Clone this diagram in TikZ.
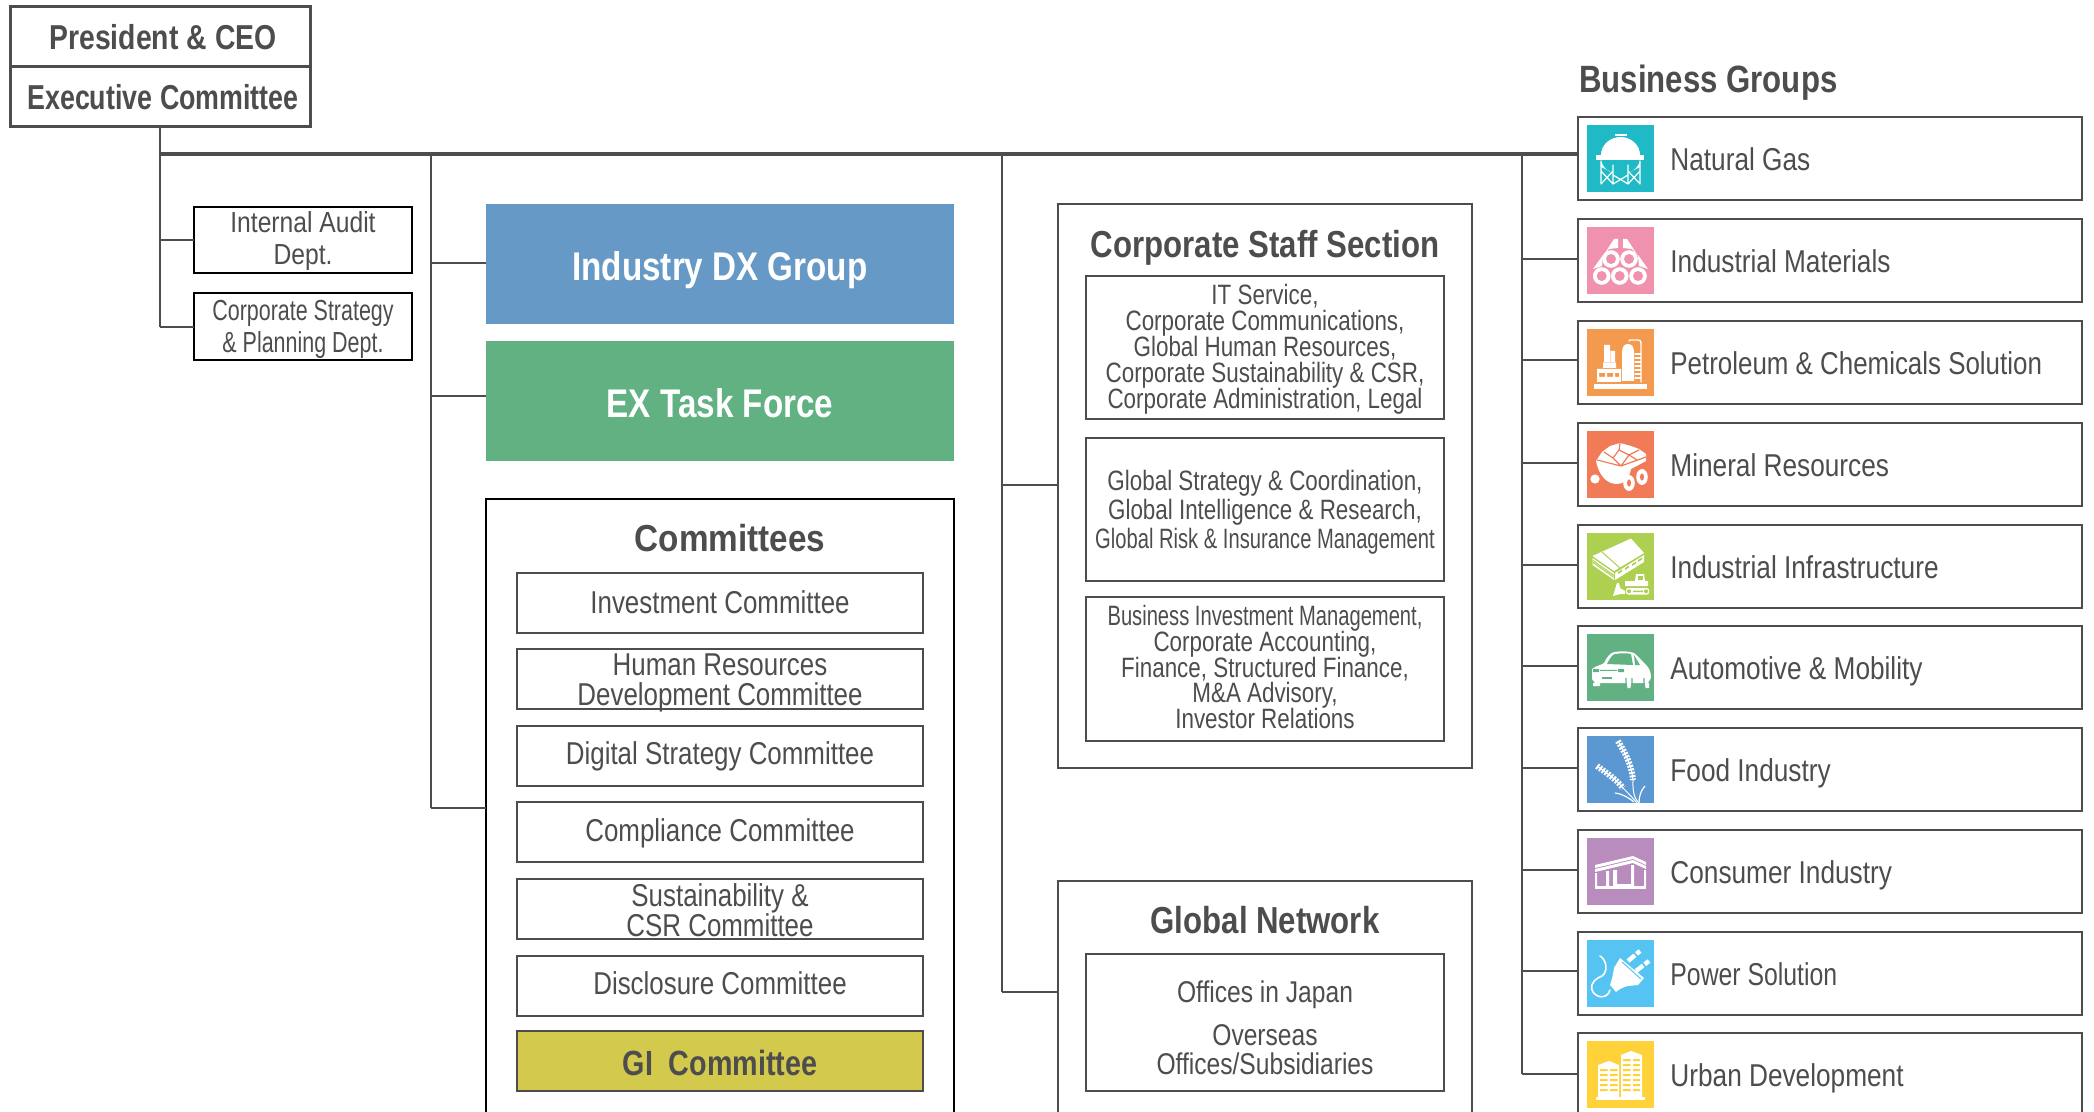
\documentclass[tikz,border=0pt]{standalone}
\usepackage{fontspec}
\setmainfont{Liberation Sans}
\newfontfamily\condfont[FakeStretch=0.82]{Liberation Sans}
\newfontfamily\tightfont[FakeStretch=0.74]{Liberation Sans}
\newfontfamily\headfont[FakeStretch=0.83]{Liberation Sans}
\newfontfamily\wideheadfont[FakeStretch=0.885]{Liberation Sans}
\newfontfamily\execfont[FakeStretch=0.775]{Liberation Sans}
\newfontfamily\auditfont[FakeStretch=0.85]{Liberation Sans}
\newfontfamily\staffont[FakeStretch=0.80]{Liberation Sans}
\newfontfamily\stafftight[FakeStretch=0.72]{Liberation Sans}
\newfontfamily\powerfont[FakeStretch=0.785]{Liberation Sans}
\definecolor{ink}{HTML}{4D4D4D}
\definecolor{dxblue}{HTML}{6799C6}
\definecolor{exgreen}{HTML}{62B183}
\definecolor{gigold}{HTML}{D3C94C}
\definecolor{gasteal}{HTML}{20B9C6}
\definecolor{matpink}{HTML}{F092AE}
\definecolor{petorange}{HTML}{F39A4E}
\definecolor{mincoral}{HTML}{F07B56}
\definecolor{inflime}{HTML}{ADD050}
\definecolor{foodblue}{HTML}{5B98D2}
\definecolor{conspurple}{HTML}{B88CBC}
\definecolor{powcyan}{HTML}{56C4F2}
\definecolor{urbyellow}{HTML}{FFD23A}
\tikzset{
  wire/.style={draw=ink,line width=1.4pt},
  plainbox/.style={rectangle,anchor=north west,inner sep=0pt,outer sep=0pt,align=center,text=ink},
  topbox/.style={plainbox,draw=ink,line width=1.5pt,minimum width=150pt,minimum height=30pt,
    font=\bfseries\fontsize{17.3}{17}\selectfont},
  deptbox/.style={plainbox,draw=black,line width=1.3pt,minimum width=109pt,minimum height=33pt,
    font=\fontsize{14.5}{16}\selectfont},
  colorbox/.style={plainbox,text=white,minimum width=234pt,minimum height=60pt,text height=16.5pt,text depth=0pt,
    font=\headfont\bfseries\fontsize{20}{20}\selectfont},
  outerbox/.style={plainbox,line width=1pt},
  itembox/.style={plainbox,draw=ink,line width=1.1pt,minimum width=203pt,minimum height=30pt,
    font=\condfont\fontsize{15.8}{14.7}\selectfont},
  oneline/.style={text height=11.3pt,text depth=2.5pt},
  innerbox/.style={plainbox,draw=ink,line width=1.1pt,minimum width=179pt,
    font=\staffont\fontsize{14}{12.9}\selectfont},
  titlenode/.style={text=ink,inner sep=0pt,font=\headfont\bfseries\fontsize{18.8}{19}\selectfont},
  grpbox/.style={plainbox,draw=ink,line width=1.1pt,minimum width=252pt,minimum height=41.5pt},
  grplabel/.style={anchor=base west,text=ink,inner sep=0pt,font=\headfont\fontsize{15.8}{16}\selectfont},
  iconbox/.style={anchor=north west,inner sep=0pt,outer sep=0pt,minimum size=33.5pt},
  ico/.style={draw=white,line width=.7pt,line cap=round,line join=round},
}
\begin{document}
\lineskiplimit=-30pt
\begin{tikzpicture}[x=0.5pt,y=-0.5pt]
\useasboundingbox (0,0) rectangle (2094,1112);
\clip (0,0) rectangle (2094,1112);

% top of the chart
\node[topbox] (ceo) at (10,7) {\hspace{3pt}\condfont\bfseries President \& CEO};
\node[topbox] (exec) at (10,67) {\hspace{3pt}\execfont\bfseries Executive Committee};

% trunks
\coordinate (tleft) at (160,154);
\coordinate (tleftend) at (160,327);
\coordinate (tmid) at (431,154);
\coordinate (tmidend) at (431,808);
\coordinate (tstaff) at (1002,154);
\coordinate (tstaffend) at (1002,992);
\coordinate (tgrp) at (1522,154);
\coordinate (tgrpend) at (1522,1074);

\draw[wire] (exec.south -| tleft) -- (tleftend);
\draw[wire] (tmid) -- (tmidend);
\draw[wire] (tstaff) -- (tstaffend);
\draw[wire] (tgrp) -- (tgrpend);

% staff departments
\node[deptbox] (audit) at (194,207) {\auditfont\rule{0pt}{12pt}Internal Audit\\\auditfont Dept.};
\node[deptbox,minimum height=33.5pt] (strategy) at (194,293) {\tightfont\rule{0pt}{13pt}Corporate Strategy\\\tightfont \& Planning Dept.};
\draw[wire] (audit.west -| tleft) -- (audit.west);
\draw[wire] (tleftend) -- (tleftend -| strategy.west);

% middle column
\node[colorbox,fill=dxblue] (dx) at (486,204) {Industry DX Group};
\node[colorbox,fill=exgreen] (ex) at (486,341) {EX Task Force};
\node[outerbox,draw=black,minimum width=234pt,minimum height=320pt] (comm) at (486,499) {};
\node[titlenode,font=\wideheadfont\bfseries\fontsize{18.8}{19}\selectfont] (commtitle) at (730,538) {Committees};

\node[itembox,text height=13pt,text depth=2.5pt] (invest) at (517,573) {Investment Committee};
\node[itembox,text height=26pt,text depth=0pt] (human) at (517,649) {Human Resources\\Development Committee};
\node[itembox,oneline] (digital) at (517,726) {Digital Strategy Committee};
\node[itembox,text height=12pt,text depth=2.5pt] (compl) at (517,802) {Compliance Committee};
\node[itembox,text height=27.3pt,text depth=0pt] (sust) at (517,879) {Sustainability \&\\CSR Committee};
\node[itembox,oneline] (discl) at (517,956) {Disclosure Committee};
\node[itembox,fill=gigold,text height=14pt,text depth=0pt,font=\condfont\bfseries\fontsize{17.5}{17}\selectfont] (gi) at (517,1031) {GI\ \ Committee};

\coordinate (sdx) at (431,263);
\coordinate (sex) at (431,396);
\draw[wire] (sdx) -- (sdx -| dx.west);
\draw[wire] (sex) -- (sex -| ex.west);
\draw[wire] (tmidend) -- (tmidend -| comm.west);

% corporate staff
\node[outerbox,draw=ink,minimum width=207pt,minimum height=282pt] (staff) at (1058,204) {};
\node[titlenode] (stafftitle) at (1265,248) {Corporate Staff Section};
\node[innerbox,minimum height=71.5pt] (stafftop) at (1086,276) {\rule{0pt}{12pt}IT Service,\\Corporate Communications,\\Global Human Resources,\\Corporate Sustainability \& CSR,\\Corporate Administration, Legal};
\node[innerbox,minimum height=71.5pt,font=\staffont\fontsize{14}{14.5}\selectfont] (staffmid) at (1086,438) {\rule{0pt}{13pt}Global Strategy \& Coordination,\\Global Intelligence \& Research,\\\stafftight Global Risk \& Insurance Management};
\node[innerbox,minimum height=72pt] (stafflow) at (1086,597) {\stafftight Business Investment Management,\\Corporate Accounting,\\Finance, Structured Finance,\\M\&A Advisory,\\Investor Relations\rule[-2pt]{0pt}{2pt}};

% global network
\node[outerbox,draw=ink,minimum width=207pt,minimum height=150pt] (global) at (1058,881) {};
\node[titlenode] (globaltitle) at (1265,920) {Global Network};
\node[innerbox,minimum height=68.5pt,font=\condfont\fontsize{15}{14.7}\selectfont] (globalin) at (1086,954) {\rule{0pt}{16.5pt}Offices in Japan\\[6.5pt]Overseas\\Offices/Subsidiaries};

\coordinate (sstaff) at (1002,485);
\draw[wire] (sstaff) -- (sstaff -| staff.west);
\draw[wire] (tstaffend) -- (tstaffend -| global.west);

% business groups
\node[titlenode,anchor=west,font=\condfont\bfseries\fontsize{19}{19}\selectfont] (grptitle) at (1579,83) {Business Groups};

\foreach \i/\gy/\sy/\gcol/\glab in {
  1/117/154/gasteal/Natural Gas,
  2/219/259/matpink/Industrial Materials,
  3/321/360/petorange/\condfont Petroleum \& Chemicals Solution,
  4/423/463/mincoral/Mineral Resources,
  5/525/565/inflime/Industrial Infrastructure,
  6/626/666/exgreen/Automotive \& Mobility,
  7/728/768/foodblue/Food Industry,
  8/830/870/conspurple/Consumer Industry,
  9/932/971/powcyan/\powerfont Power Solution,
  10/1033/1074/urbyellow/Urban Development}{
  \node[grpbox] (grp\i) at (1578,\gy) {};
  \node[iconbox,fill=\gcol] (ico\i) at ([xshift=4.5pt,yshift=-4pt]grp\i.north west) {};
  \node[grplabel] (lab\i) at ([xshift=46pt,yshift=-26.9pt]grp\i.north west) {\glab};
  \coordinate (sg\i) at (1522,\sy);
  \draw[wire] (sg\i) -- (sg\i -| grp\i.west);
}

% the bus goes over the stubs
\draw[wire,line width=1.7pt] (tleft) -- (sg1 -| grp1.west);

% gas tank
\begin{scope}[shift={(ico1.north west)}]
\fill[white] (14,30) .. controls (14,20) and (23,12) .. (33.5,12) .. controls (44,12) and (53,20) .. (53,30) -- cycle;
\fill[white] (27.5,9) rectangle (39.5,11);
\fill[white] (9,30) rectangle (57,35);
\fill[white] (14,36) .. controls (16,42) and (20,46) .. (24,47) -- (14,42) -- cycle;
\fill[white] (53,36) .. controls (51,42) and (47,46) .. (43,47) -- (53,42) -- cycle;
\draw[ico,line width=.6pt] (14,36) -- (14,59) (53,36) -- (53,59) (26,40) -- (26,59) (41,40) -- (41,59)
  (14,46) -- (26,59) (26,46) -- (14,59) (26,50) -- (41,59) (41,50) -- (26,59) (41,46) -- (53,59) (53,46) -- (41,59);
\end{scope}

% pipes
\begin{scope}[shift={(ico2.north west)}]
\fill[white] (31,12) -- (27,12) -- (16,29) -- (22,22) -- (31,21) -- cycle;
\fill[white] (36,12) -- (40,12) -- (51,29) -- (45,22) -- (36,21) -- cycle;
\fill[white] (16,28) -- (6,42) -- (15,39) -- cycle (51,28) -- (61,42) -- (52,39) -- cycle;
\foreach \px/\py in {24/32,42/32,14.7/49,32.7/49,51/49}{
  \fill[white] (\px,\py) circle (4.4pt);
  \fill[matpink] (\px,\py) circle (2.5pt);
}
\end{scope}

% refinery
\begin{scope}[shift={(ico3.north west)}]
\fill[white] (7,55) rectangle (60,60);
\fill[white] (35,52) -- (35,23) .. controls (35,17) and (38,15) .. (41,15) .. controls (44,15) and (47,17) .. (47,23) -- (47,52) -- cycle;
\draw[ico] (42,12) .. controls (42,11) and (43,11) .. (44,11) -- (51,11) .. controls (53,11) and (54,12) .. (54,14) -- (54,53);
\foreach \ry in {25,29,33,37,41,45,49}{ \draw[ico,line width=.6pt] (48,\ry) -- (54,\ry); }
\fill[white] (17,16) rectangle (23,33) (23.5,22) rectangle (28,33) (16,33.5) rectangle (29,39);
\fill[white] (10,40) rectangle (34,44) (10,48) rectangle (34,53) (10,44) rectangle (12,48) (18,44) rectangle (20,48) (26,44) rectangle (28,48) (32,44) rectangle (34,48);
\end{scope}

% ore cart
\begin{scope}[shift={(ico4.north west)}]
\fill[white] (9,30) -- (15,21) -- (23,15) -- (33,12) -- (44,15) -- (52,18) -- (59,23) -- (59,30) -- (44,38) .. controls (42,48) and (37,53) .. (30,53) .. controls (20,53) and (12,45) .. (9,30) -- cycle;
\draw[mincoral,line width=.6pt] (10,29) -- (34,35) -- (59,26) (17,21) -- (26,27) -- (34,35) (26,27) -- (32,19) -- (42,24) -- (34,35) (42,24) -- (52,19) (32,19) -- (33,12) (42,24) -- (50,29);
\fill[white] (8,48) circle (2.3pt);
\fill[white] (42,52) ellipse (2.9pt and 4pt);
\fill[white] (55,46) ellipse (2.9pt and 4pt);
\fill[mincoral] (42,52) ellipse (1pt and 1.8pt) (55,46) ellipse (1pt and 1.8pt);
\end{scope}

% plant and bulldozer
\begin{scope}[shift={(ico5.north west)}]
\fill[white] (5.5,23) -- (44,5.5) -- (57,20) -- (27,38) -- cycle;
\draw[inflime,line width=.5pt] (15,19) -- (34,36) ;
\fill[white] (5.5,25) -- (27,40) -- (27,47) -- (5.5,32) -- cycle (28,40) -- (57,22) -- (57,29) -- (28,47) -- cycle;
\draw[inflime,line width=.5pt] (6,27.5) -- (27,42.5) (6,29.5) -- (27,44.5);
\foreach \wx/\wy in {31/39,38/35,45/31,51/27}{ \fill[inflime] (\wx,\wy) -- ++(4,-2.5) -- ++(0,2) -- ++(-4,2.5) -- cycle; }
\fill[white] (26,63) -- (30,50) -- (32,50) -- (33,55) -- (38,58) -- (38,61) -- (33,61) -- cycle;
\fill[white] (38,48) rectangle (61,53) (49,41) -- (57,41) -- (58,48) -- (48,48) -- cycle;
\fill[inflime] (51,43) rectangle (56,47);
\fill[white] (41,55) .. controls (38,55) and (38,61.5) .. (41,61.5) -- (60,61.5) .. controls (63,61.5) and (63,55) .. (60,55) -- cycle;
\fill[inflime] (42,58.3) circle (1pt) (59,58.3) circle (1pt) (46,57.5) rectangle (56,59);
\end{scope}

% car
\begin{scope}[shift={(ico6.north west)}]
\fill[white] (5,35) .. controls (10,31) and (15,31) .. (17,29) .. controls (20,23) and (23,19) .. (27,18) .. controls (34,17) and (42,17) .. (47,19)
  .. controls (52,23) and (56,28) .. (60,32) .. controls (63,35) and (64,40) .. (64,44) -- (61,49) -- (42,49) -- (8,49) -- (5,45) -- cycle;
\fill[exgreen] (20,30) .. controls (23,24) and (25,21) .. (28,20) .. controls (34,19) and (40,19) .. (44,20) -- (46,31) -- cycle (47,21) -- (53,31) -- (48,31) -- cycle;
\fill[exgreen] (6,35) rectangle (12,38) (31,35) rectangle (37,38) (13,35.8) rectangle (30,36.8);
\fill[exgreen] (15,43) rectangle (25,44.5);
\fill[white] (6,49) rectangle (13,52) (40,49) rectangle (44,54) (58,49) rectangle (62,54);
\draw[exgreen,line width=.6pt] (39,44) .. controls (39,48) and (39,52) .. (40,54) (45,44) .. controls (45,48) and (45,52) .. (44,54);
\draw[exgreen,line width=.6pt] (57,44) .. controls (57,48) and (57,52) .. (58,54);
\end{scope}

% wheat
\begin{scope}[shift={(ico7.north west)}]
\draw[white,line width=3pt,dash pattern=on 1pt off .7pt] (31,5) .. controls (36,14) and (44,25) .. (46,44);
\draw[white,line width=.5pt] (31,5) .. controls (36,14) and (44,25) .. (46,44) .. controls (46,50) and (45,60) .. (52,67);
\draw[white,line width=3pt,dash pattern=on 1pt off .7pt] (10,30) .. controls (18,36) and (28,42) .. (36,52);
\draw[white,line width=.5pt] (10,30) .. controls (18,36) and (28,42) .. (36,52) .. controls (42,58) and (46,62) .. (50,67);
\draw[white,line width=.6pt] (28,57) .. controls (36,58) and (42,62) .. (47,66);
\draw[white,line width=.6pt] (58,50) .. controls (54,54) and (52,60) .. (52,67);
\end{scope}

% store
\begin{scope}[shift={(ico8.north west)}]
\fill[white] (8,27) -- (46,18) -- (59,24) -- (59,27) -- (46,21) -- (8,30) -- cycle;
\fill[white] (8,31) -- (46,22) -- (59,28) -- (59,31) -- (46,25) -- (8,34) -- cycle;
\fill[white] (8,35) rectangle (10,48) (19,33) rectangle (22,48) (26,32) rectangle (30,48) (44,27) rectangle (47,48) (57,32) rectangle (59,48);
\fill[white] (8,48) rectangle (59,51);
\fill[white] (30,46) rectangle (44,48);
\end{scope}

% plug
\begin{scope}[shift={(ico9.north west)}]
\fill[white] (33,18) -- (57,38) -- (51,45) -- (41,46) .. controls (36,47) and (31,50) .. (29,52) -- (23,45) .. controls (25,40) and (26,34) .. (27,28) -- cycle;
\draw[white,line width=2.2pt,dash pattern=on 4.5pt off 1pt] (41,21) -- (53,11);
\draw[white,line width=2.2pt,dash pattern=on 4.5pt off 1pt] (49,31) -- (62,21);
\draw[ico,line width=.8pt] (23,50) .. controls (20,60) and (8,58) .. (5,50) .. controls (3,42) and (10,38) .. (15,36) .. controls (21,32) and (20,20) .. (13,16);
\draw[powcyan,line width=.5pt] (35,22) -- (54,39);
\end{scope}

% towers
\begin{scope}[shift={(ico10.north west)}]
\fill[white] (9,56) rectangle (58,59);
\fill[white] (11,24) -- (22,20) -- (32,24) -- (32,56) -- (11,56) -- cycle;
\fill[white] (34,14) -- (44,10) -- (55,14) -- (55,56) -- (34,56) -- cycle;
\foreach \fy in {28,33,38,43,48}{
  \fill[urbyellow] (13,\fy) rectangle (20.5,\fy+2) (23,\fy) rectangle (30.5,\fy+2);
}
\foreach \fy in {18,23,28,33,38,43,48}{
  \fill[urbyellow] (36,\fy) rectangle (43.5,\fy+2) (46,\fy) rectangle (53,\fy+2);
}
\end{scope}

\end{tikzpicture}
\end{document}
